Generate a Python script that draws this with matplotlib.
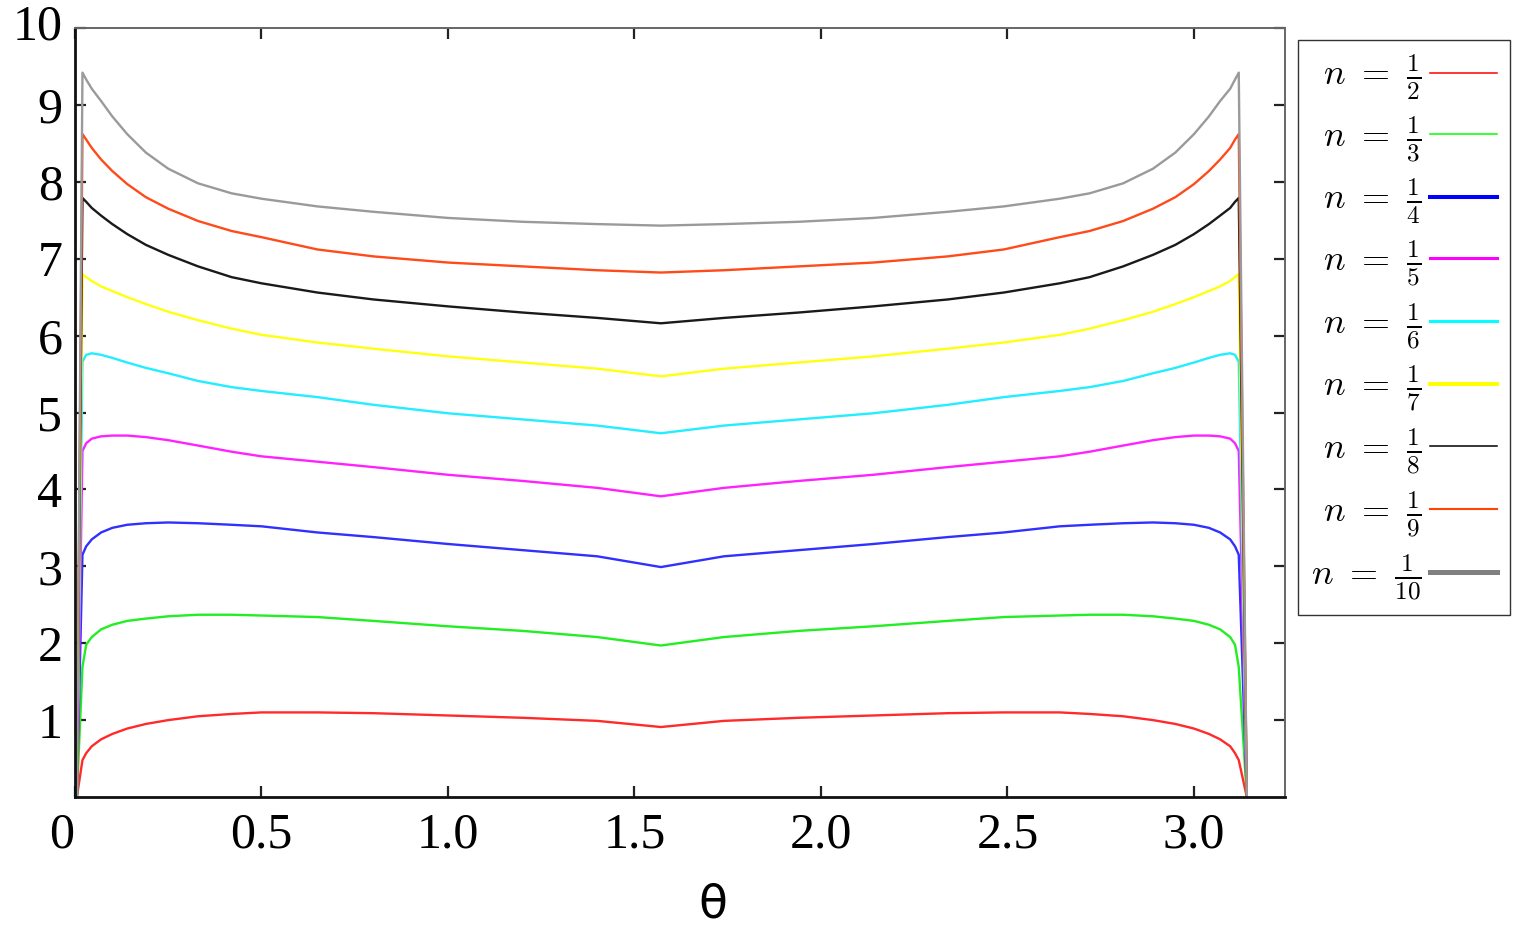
import matplotlib
matplotlib.use('Agg')
import matplotlib.pyplot as plt
from matplotlib.lines import Line2D
import matplotlib.transforms as mtransforms

plt.rcParams['mathtext.fontset'] = 'cm'

theta = [0.005, 0.02, 0.03, 0.045, 0.07, 0.1, 0.14, 0.19, 0.25, 0.33, 0.42, 0.5, 0.65, 0.8,
         1.0, 1.2, 1.4,
         1.5708,
         1.74, 1.94, 2.14, 2.34, 2.49, 2.64, 2.72, 2.81, 2.89, 2.95, 3.0, 3.04, 3.07, 3.097,
         3.11, 3.12, 3.1416]

n_half = [0, 0.48, 0.57, 0.66, 0.75, 0.82, 0.89, 0.95, 1.00, 1.05, 1.08, 1.10, 1.10, 1.09,
          1.06, 1.03, 0.99,
          0.91,
          0.99, 1.03, 1.06, 1.09, 1.10, 1.10, 1.08, 1.05, 1.00, 0.95, 0.89, 0.82, 0.75, 0.66,
          0.57, 0.48, 0]
n_third = [0, 1.69, 1.98, 2.08, 2.18, 2.24, 2.29, 2.32, 2.35, 2.37, 2.37, 2.36, 2.34, 2.29,
           2.22, 2.16, 2.08,
           1.97,
           2.08, 2.16, 2.22, 2.29, 2.34, 2.36, 2.37, 2.37, 2.35, 2.32, 2.29, 2.24, 2.18, 2.08,
           1.98, 1.69, 0]
n_quarter = [0, 3.15, 3.26, 3.35, 3.44, 3.50, 3.54, 3.56, 3.57, 3.56, 3.54, 3.52, 3.44, 3.38,
             3.29, 3.21, 3.13,
             2.99,
             3.13, 3.21, 3.29, 3.38, 3.44, 3.52, 3.54, 3.56, 3.57, 3.56, 3.54, 3.50, 3.44, 3.35,
             3.26, 3.15, 0]
n_fifth = [0, 4.50, 4.60, 4.66, 4.69, 4.70, 4.70, 4.68, 4.64, 4.57, 4.49, 4.43, 4.36, 4.29,
           4.19, 4.11, 4.02,
           3.91,
           4.02, 4.11, 4.19, 4.29, 4.36, 4.43, 4.49, 4.57, 4.64, 4.68, 4.70, 4.70, 4.69, 4.66,
           4.60, 4.50, 0]
n_sixth = [0, 5.66, 5.75, 5.77, 5.75, 5.71, 5.65, 5.58, 5.51, 5.41, 5.33, 5.28, 5.20, 5.10,
           4.99, 4.91, 4.83,
           4.73,
           4.83, 4.91, 4.99, 5.10, 5.20, 5.28, 5.33, 5.41, 5.51, 5.58, 5.65, 5.71, 5.75, 5.77,
           5.75, 5.66, 0]
n_seventh = [0, 6.80, 6.76, 6.71, 6.64, 6.58, 6.50, 6.41, 6.31, 6.20, 6.09, 6.01, 5.91, 5.83,
             5.73, 5.65, 5.57,
             5.47,
             5.57, 5.65, 5.73, 5.83, 5.91, 6.01, 6.09, 6.20, 6.31, 6.41, 6.50, 6.58, 6.64, 6.71,
             6.76, 6.80, 0]
n_eighth = [0, 7.79, 7.74, 7.66, 7.56, 7.45, 7.32, 7.18, 7.05, 6.90, 6.76, 6.68, 6.56, 6.47,
            6.38, 6.30, 6.23,
            6.16,
            6.23, 6.30, 6.38, 6.47, 6.56, 6.68, 6.76, 6.90, 7.05, 7.18, 7.32, 7.45, 7.56, 7.66,
            7.74, 7.79, 0]
n_ninth = [0, 8.62, 8.55, 8.44, 8.29, 8.14, 7.97, 7.80, 7.65, 7.49, 7.36, 7.28, 7.12, 7.03,
           6.95, 6.90, 6.85,
           6.82,
           6.85, 6.90, 6.95, 7.03, 7.12, 7.28, 7.36, 7.49, 7.65, 7.80, 7.97, 8.14, 8.29, 8.44,
           8.55, 8.62, 0]
n_tenth = [0, 9.42, 9.33, 9.21, 9.05, 8.85, 8.62, 8.38, 8.17, 7.98, 7.85, 7.78, 7.68, 7.61,
           7.53, 7.48, 7.45,
           7.43,
           7.45, 7.48, 7.53, 7.61, 7.68, 7.78, 7.85, 7.98, 8.17, 8.38, 8.62, 8.85, 9.05, 9.21,
           9.33, 9.42, 0]

series = [n_half, n_third, n_quarter, n_fifth, n_sixth, n_seventh, n_eighth, n_ninth, n_tenth]
plot_colors = ['#ff2a2a', '#22ee22', '#3030ff', '#ff22ff', '#22eeff', '#ffff10', '#1a1a1a',
               '#ff4a1a', '#9a9a9a']
legend_labels = [r'$n\ =\ \frac{1}{2}$', r'$n\ =\ \frac{1}{3}$', r'$n\ =\ \frac{1}{4}$',
                 r'$n\ =\ \frac{1}{5}$', r'$n\ =\ \frac{1}{6}$', r'$n\ =\ \frac{1}{7}$',
                 r'$n\ =\ \frac{1}{8}$', r'$n\ =\ \frac{1}{9}$', r'$n\ =\ \frac{1}{10}$']
legend_colors = ['#ff0000', '#00ff00', '#0000ff', '#ff00ff', '#00ffff', '#ffff00', '#000000',
                 '#ff4500', '#808080']
legend_widths = [1.1, 1.1, 2.9, 2.2, 2.2, 2.9, 1.1, 1.5, 3.6]

xticks = [0, 0.5, 1.0, 1.5, 2.0, 2.5, 3.0]
xticklabels = ['0', '0.5', '1.0', '1.5', '2.0', '2.5', '3.0']
yticks = [1, 2, 3, 4, 5, 6, 7, 8, 9, 10]
yticklabels = ['1', '2', '3', '4', '5', '6', '7', '8', '9', '10']

W, H = 1523, 933
fig = plt.figure(figsize=(W / 100, H / 100), dpi=100)
ax = fig.add_axes([75 / W, 1 - 797 / H, (1285 - 75) / W, (797 - 28) / H])

for ys, c in zip(series, plot_colors):
    ax.plot(theta, ys, color=c, lw=1.7, solid_joinstyle='round')

ax.set_xlim(0, 3.244)
ax.set_ylim(0, 10)
ax.set_xticks(xticks)
ax.set_xticklabels(xticklabels)
ax.set_yticks(yticks)
ax.set_yticklabels(yticklabels)

for lab in ax.get_xticklabels() + ax.get_yticklabels():
    lab.set_fontfamily('Liberation Serif')
    lab.set_fontsize(36)

ax.tick_params(axis='both', direction='in', length=8, width=1.6, color='#222222',
               top=True, right=True)
ax.tick_params(axis='x', pad=11)
ax.tick_params(axis='y', pad=9)

for s in ['left', 'bottom']:
    ax.spines[s].set_linewidth(2.0)
    ax.spines[s].set_color('#111111')
for s in ['top', 'right']:
    ax.spines[s].set_linewidth(1.4)
    ax.spines[s].set_color('#666666')

# nudge the "0" label left and the "10" label up like the reference
xl = ax.get_xticklabels()
xl[0].set_transform(xl[0].get_transform() + mtransforms.ScaledTranslation(-13 / 100, 0, fig.dpi_scale_trans))
yl = ax.get_yticklabels()
yl[-1].set_transform(yl[-1].get_transform() + mtransforms.ScaledTranslation(0, 6 / 100, fig.dpi_scale_trans))

ax.set_xlabel('θ', family='DejaVu Sans', fontsize=34)
ax.xaxis.label.set_va('center')
ax.xaxis.set_label_coords((713 - 75) / 1210, -(905 - 797) / 769)

handles = [Line2D([0], [0], color=c, lw=w) for c, w in zip(legend_colors, legend_widths)]
leg = fig.legend(handles, legend_labels, loc='upper left',
                 bbox_to_anchor=(1298 / W, 1 - 40 / H), bbox_transform=fig.transFigure,
                 borderaxespad=0, markerfirst=False, fontsize=26, frameon=True,
                 fancybox=False, edgecolor='black', handlelength=1.85, handletextpad=0.25,
                 labelspacing=0.33, borderpad=0.35)
leg.get_frame().set_linewidth(1.0)

fig.savefig('out.png', dpi=100)
